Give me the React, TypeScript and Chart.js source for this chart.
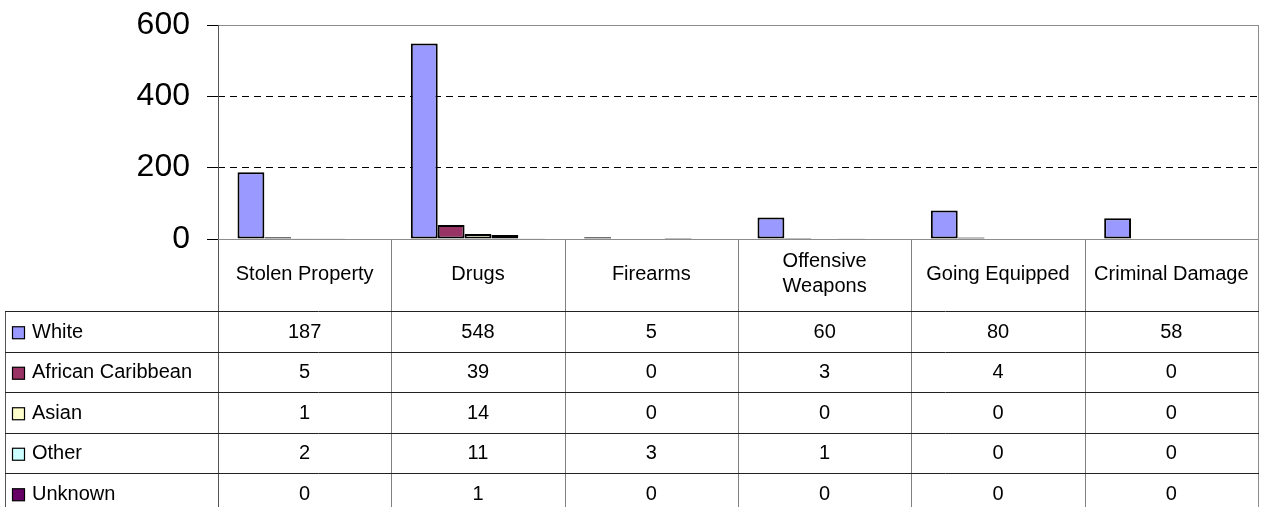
import React, { useEffect, useRef } from "react";
import { Chart, registerables } from "chart.js";

Chart.register(...registerables);

const categories = ["Stolen Property", "Drugs", "Firearms", "Offensive Weapons", "Going Equipped", "Criminal Damage"];
const seriesNames = ["White", "African Caribbean", "Asian", "Other", "Unknown"];
const white = [187, 548, 5, 60, 80, 58];
const africanCaribbean = [5, 39, 0, 3, 4, 0];
const asian = [1, 14, 0, 0, 0, 0];
const other = [2, 11, 3, 1, 0, 0];
const unknown = [0, 1, 0, 0, 0, 0];
const seriesColors = ["#9999FF", "#993366", "#FFFFCC", "#CCFFFF", "#660066"];
const yMin = 0;
const yMax = 600;
const yStep = 200;

const FONT = '"Liberation Sans", Arial, sans-serif';
const seriesValues = [white, africanCaribbean, asian, other, unknown];

const TABLE_LEFT = 5;
const HEADER_H = 72;
const ROW_H = 40.5;

function wrapText(ctx: CanvasRenderingContext2D, text: string, maxW: number): string[] {
  const words = text.split(" ");
  const lines: string[] = [];
  let cur = "";
  for (const w of words) {
    const test = cur ? cur + " " + w : w;
    if (ctx.measureText(test).width > maxW && cur) {
      lines.push(cur);
      cur = w;
    } else {
      cur = test;
    }
  }
  if (cur) lines.push(cur);
  return lines;
}

const tablePlugin = {
  id: "dataTable",
  beforeDatasetsDraw(chart: any) {
    const ctx: CanvasRenderingContext2D = chart.ctx;
    const area = chart.chartArea;
    const xs = chart.scales.x;
    const n = categories.length;
    const cw = (xs.right - xs.left) / n;
    const H = chart.height;
    const tableTop = area.bottom + HEADER_H;
    ctx.save();
    ctx.lineWidth = 1;
    // plot frame
    ctx.strokeStyle = "#8c8c8c";
    ctx.beginPath();
    ctx.moveTo(area.left, Math.round(area.top) + 0.5);
    ctx.lineTo(area.right, Math.round(area.top) + 0.5);
    ctx.moveTo(Math.round(area.right) + 0.5, area.top);
    ctx.lineTo(Math.round(area.right) + 0.5, H);
    ctx.stroke();
    // category separators in table
    ctx.strokeStyle = "#808080";
    ctx.beginPath();
    for (let i = 1; i < n; i++) {
      const x = Math.round(xs.left + i * cw) + 0.5;
      ctx.moveTo(x, area.bottom);
      ctx.lineTo(x, H);
    }
    ctx.stroke();
    // left lines
    ctx.strokeStyle = "#555555";
    ctx.beginPath();
    ctx.moveTo(Math.round(area.left) + 0.5, area.top);
    ctx.lineTo(Math.round(area.left) + 0.5, H);
    ctx.moveTo(TABLE_LEFT + 0.5, tableTop);
    ctx.lineTo(TABLE_LEFT + 0.5, H);
    ctx.stroke();
    // horizontal table lines
    ctx.strokeStyle = "#222222";
    ctx.beginPath();
    for (let r = 0; r < seriesNames.length; r++) {
      const y = Math.round(tableTop + r * ROW_H) + 0.5;
      ctx.moveTo(TABLE_LEFT, y);
      ctx.lineTo(area.right + 1, y);
    }
    ctx.stroke();
    // axis at zero
    ctx.strokeStyle = "#8c8c8c";
    ctx.beginPath();
    ctx.moveTo(area.left, Math.round(area.bottom) + 0.5);
    ctx.lineTo(area.right, Math.round(area.bottom) + 0.5);
    ctx.stroke();
    ctx.restore();
  },
  afterDraw(chart: any) {
    const ctx: CanvasRenderingContext2D = chart.ctx;
    const area = chart.chartArea;
    const xs = chart.scales.x;
    const n = categories.length;
    const cw = (xs.right - xs.left) / n;
    const tableTop = area.bottom + HEADER_H;
    ctx.save();
    ctx.fillStyle = "#000";
    ctx.font = "20px " + FONT;
    ctx.textAlign = "center";
    ctx.textBaseline = "middle";
    // header labels
    for (let i = 0; i < n; i++) {
      const cx = xs.getPixelForValue(i);
      const lines = wrapText(ctx, categories[i], cw - 10);
      const lh = 25;
      const cy = area.bottom + 35;
      lines.forEach((l, k) => {
        ctx.fillText(l, cx, cy + (k - (lines.length - 1) / 2) * lh);
      });
    }
    // rows
    for (let r = 0; r < seriesNames.length; r++) {
      const cy = tableTop + r * ROW_H + ROW_H / 2 + 1;
      // swatch
      ctx.fillStyle = seriesColors[r];
      ctx.fillRect(12.5, cy - 5.5, 12, 12);
      ctx.strokeStyle = "#000";
      ctx.lineWidth = 1.2;
      ctx.strokeRect(12.5, cy - 5.5, 12, 12);
      ctx.fillStyle = "#000";
      ctx.textAlign = "left";
      ctx.fillText(seriesNames[r], 32, cy);
      ctx.textAlign = "center";
      for (let i = 0; i < n; i++) {
        ctx.fillText(String(seriesValues[r][i]), xs.getPixelForValue(i), cy);
      }
    }
    ctx.restore();
  },
};

export default function App() {
  const ref = useRef<HTMLCanvasElement>(null);
  useEffect(() => {
    if (!ref.current) return;
    const chart = new Chart(ref.current, {
      type: "bar",
      data: {
        labels: categories,
        datasets: seriesNames.map((name, i) => ({
          label: name,
          data: seriesValues[i],
          backgroundColor: seriesColors[i],
          borderColor: "#000000",
          borderWidth: 2,
          borderSkipped: false,
          categoryPercentage: 0.775,
          barPercentage: 1,
        })),
      },
      options: {
        animation: false,
        responsive: false,
        maintainAspectRatio: false,
        layout: { padding: { left: 0, right: 7, top: 25, bottom: 268 } },
        plugins: {
          legend: { display: false },
          tooltip: { enabled: false },
          title: { display: false },
        },
        scales: {
          x: {
            display: false,
          },
          y: {
            min: yMin,
            max: yMax,
            afterFit: (scale: any) => {
              scale.width = 218;
              scale.paddingTop = 0;
              scale.paddingBottom = 0;
            },
            ticks: {
              stepSize: yStep,
              padding: 17,
              color: "#000",
              font: { family: FONT, size: 32 },
            },
            grid: {
              color: (c: any) =>
                c.tick && c.tick.value !== yMin && c.tick.value !== yMax ? "#000" : "rgba(0,0,0,0)",
              tickColor: "#000",
              tickLength: 11,
              lineWidth: 1,
            },
            border: { display: false, dash: [7, 5] },
          },
        },
      },
      plugins: [tablePlugin],
    });
    return () => chart.destroy();
  }, []);
  return (
    <div style={{ position: "fixed", left: 0, top: 0, width: 1265, height: 507, background: "#fff" }}>
      <canvas ref={ref} width={1265} height={507} style={{ display: "block" }} />
    </div>
  );
}
